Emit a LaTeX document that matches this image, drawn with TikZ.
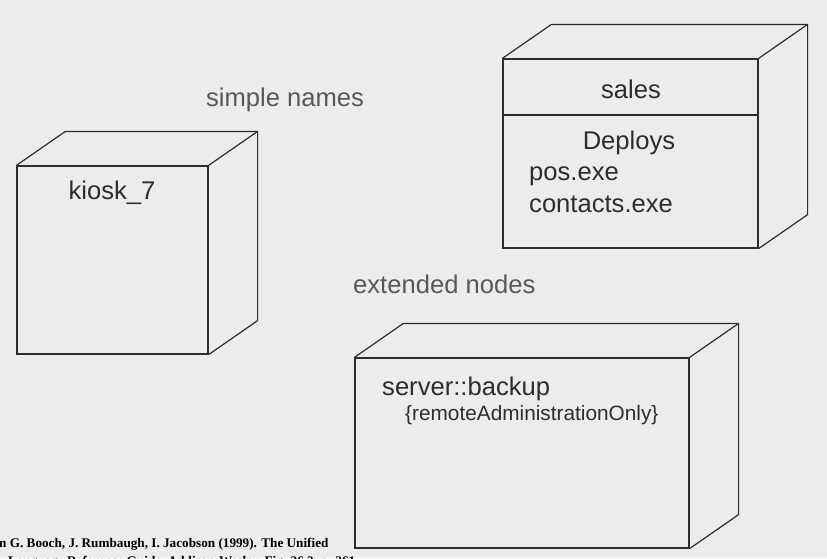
\documentclass[tikz,border=0pt]{standalone}
\usepackage{fontspec}
\setmainfont{Liberation Sans}
\newfontfamily\capfont{Liberation Serif}
\usetikzlibrary{calc}

\definecolor{paper}{RGB}{236,236,234}
\definecolor{ink}{RGB}{45,45,45}
\definecolor{softink}{RGB}{88,88,88}

\tikzset{
  face/.style={draw=ink, line width=1.2pt, inner sep=0pt},
  edge/.style={draw=ink, line width=1.2pt, line join=miter},
  big/.style={text=ink, inner sep=0pt, font=\fontsize{25.6}{29}\selectfont},
  small/.style={text=ink, inner sep=0pt, font=\fontsize{20.8}{24}\selectfont},
  title/.style={text=softink, inner sep=0pt, font=\fontsize{25.6}{29}\selectfont},
  cite/.style={text=black, inner sep=0pt, font=\capfont\bfseries\fontsize{13.2}{16}\selectfont}
}

\begin{document}
\begin{tikzpicture}[x=1pt,y=-1pt]
\clip (0,0) rectangle (827,558);
\fill[paper] (0,0) rectangle (827,558);

% front faces of the three nodes
\node[face, minimum width=191pt, minimum height=188pt] (kiosk) at (112.5,260) {};
\node[face, minimum width=255pt, minimum height=189pt] (sales) at (630.5,153.5) {};
\node[face, minimum width=334pt, minimum height=190pt] (backup) at (522,453) {};

% top and side of each box
\foreach \n in {kiosk,sales,backup} {
\draw[edge] (\n.north west) -- ++(49,-34) -| ($(\n.south east)+(49,-34)$) -- (\n.south east);
\draw[edge] (\n.north east) -- ++(49,-34);
}

% compartment line
\draw[edge] (sales.west |- 0,115) coordinate (cut) -- (sales.east |- cut);

% labels
\node[title, anchor=base] (simple) at (285,106) {simple names};
\node[title, anchor=base west] (extended) at (353,293) {extended nodes};

\node[big, anchor=base] (kname) at (112,199) {kiosk\_7};
\node[big, anchor=base] (sname) at (631,98) {sales};
\node[big, anchor=base] (deploys) at (629,149) {Deploys};
\node[big, anchor=base west] (pos) at (529,180) {pos.exe};
\node[big, anchor=base west] (contacts) at (529,212) {contacts.exe};
\node[big, anchor=base west] (bname) at (382,395) {server::backup};
\node[small, anchor=base west] (remote) at (405,420) {\{remoteAdministrationOnly\}};

% source
\node[cite, anchor=base west] (src1) at (-1,547) {n G. Booch, J. Rumbaugh, I. Jacobson (1999). The Unified};
\node[cite, anchor=base west] (src2) at (8,565) {Language Reference Guide, Addison-Wesley, Fig. 26.3, p. 261};
\end{tikzpicture}
\end{document}
